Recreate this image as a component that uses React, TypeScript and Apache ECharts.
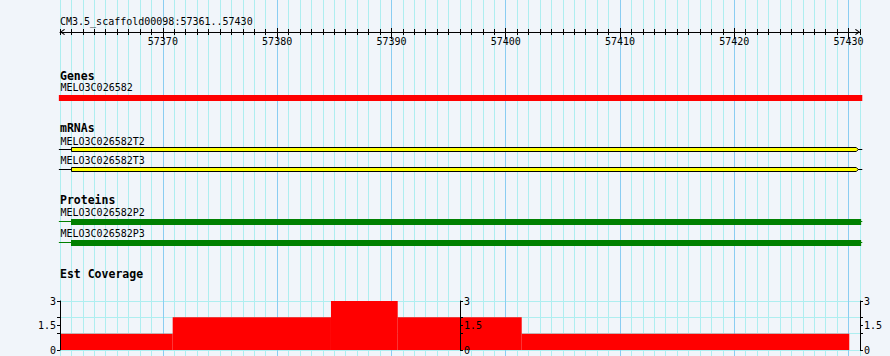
import React, { useEffect, useRef } from "react";
import * as echarts from "echarts";

// ---------- data ----------
const regionStart = 57361;
const regionEnd = 57431; // end of base 57430
const rulerLabel = "CM3.5_scaffold00098:57361..57430";
const rulerMajorTicks = [57370, 57380, 57390, 57400, 57410, 57420, 57430];

const trackTitles = ["Genes", "mRNAs", "Proteins", "Est Coverage"];

const geneNames = ["MELO3C026582"];
const geneStarts = [57360.9];
const geneEnds = [57431.2];

const mrnaNames = ["MELO3C026582T2", "MELO3C026582T3"];
const mrnaStarts = [57360.9, 57360.9];
const mrnaEnds = [57431.2, 57431.2];
const mrnaExonStarts = [57362, 57362];
const mrnaExonEnds = [57430.85, 57430.85];

const proteinNames = ["MELO3C026582P2", "MELO3C026582P3"];
const proteinStarts = [57360.9, 57360.9];
const proteinEnds = [57431.2, 57431.2];
const proteinCdsStarts = [57362, 57362];
const proteinCdsEnds = [57431.1, 57431.1];

const coverageStarts = [57361, 57370.86, 57384.71, 57390.55, 57401.4];
const coverageEnds = [57370.86, 57384.71, 57390.55, 57401.4, 57430.06];
const coverageValues = [1, 2, 3, 2, 1];
const coverageTickValues = [0, 1, 1.5, 2, 3];
const coverageLabelValues = [0, 1.5, 3];

// ---------- layout / style ----------
const W = 890;
const H = 356;
const BG = "#f1f5fa";
const MINOR = "#aeeef0";
const MAJOR = "#8acdf2";
const SMALL = "10px 'DejaVu Sans Mono'";
const BOLD = "bold 11.5px 'DejaVu Sans Mono'";
const titleY = [76, 128.3, 200, 274];
const geneLabelY = [87.7];
const geneBarTop = [95];
const mrnaLabelY = [141, 160.7];
const mrnaBoxTop = [147, 167];
const proteinLabelY = [212.3, 233.3];
const proteinBarTop = [219, 240];
const proteinLineY = [221.5, 242.5];

export default function App() {
  const ref = useRef<HTMLDivElement>(null);

  useEffect(() => {
    document.body.style.margin = "0";
    const chart = echarts.init(ref.current!, null, { renderer: "svg" });

    const splitColors = Array.from({ length: 10 }, (_, i) => (i === 9 ? MAJOR : MINOR));

    const mkText = (text: string, x: number, y: number, font: string) => ({
      type: "text",
      x,
      y,
      z: 100,
      style: { text, font, fill: "#000", verticalAlign: "middle" },
    });

    const texts: any[] = [];
    texts.push(mkText(rulerLabel, 60, 21, SMALL));
    trackTitles.forEach((t, i) => texts.push(mkText(t, 60, titleY[i], BOLD)));
    geneNames.forEach((t, i) => texts.push(mkText(t, 60.5, geneLabelY[i], SMALL)));
    mrnaNames.forEach((t, i) => texts.push(mkText(t, 60.5, mrnaLabelY[i], SMALL)));
    proteinNames.forEach((t, i) => texts.push(mkText(t, 60.5, proteinLabelY[i], SMALL)));

    const px = (api: any, v: number) => api.coord([v, 0])[0];
    const chevron = "path://M3,0 L6,4.2 L5.2,5 L3,1.6 L0.8,5 L0,4.2 Z";

    const covAxisCommon = {
      gridIndex: 2,
      type: "value",
      min: 0,
      max: 3,
      z: 6,
      axisLine: { show: true, onZero: false, lineStyle: { color: "#000", width: 1 } },
      axisTick: { show: true, length: 3, customValues: coverageTickValues, lineStyle: { color: "#000" } },
      axisLabel: {
        show: true,
        customValues: coverageLabelValues,
        margin: 4,
        color: "#000",
        fontFamily: "DejaVu Sans Mono",
        fontSize: 10,
        formatter: (v: number) => String(v),
      },
      splitLine: { show: false },
    };

    chart.setOption({
      animation: false,
      backgroundColor: BG,
      grid: [
        { left: 60, top: 0, width: 800, height: 356 },
        { left: 60, top: 22, width: 800, height: 10 },
        { left: 60, top: 301, width: 800, height: 49 },
      ],
      xAxis: [
        {
          gridIndex: 0, type: "value", min: regionStart, max: regionEnd, interval: 1,
          axisLine: { show: false }, axisTick: { show: false }, axisLabel: { show: false },
          splitLine: { show: true, showMinLine: true, showMaxLine: true, lineStyle: { color: splitColors, width: 1 } },
        },
        {
          gridIndex: 1, type: "value", position: "bottom", min: regionStart, max: regionEnd, interval: 1, z: 6,
          axisLine: {
            show: true, onZero: false, lineStyle: { color: "#000", width: 1 },
            symbol: [chevron, chevron], symbolSize: [6, 5], symbolOffset: [2.5, -2.5],
          },
          axisTick: { show: true, inside: false, length: 3, lineStyle: { color: "#000" } },
          axisLabel: { show: false }, splitLine: { show: false },
        },
        {
          gridIndex: 1, type: "value", position: "bottom", min: regionStart, max: regionEnd, interval: 1, z: 6,
          axisLine: { show: false, onZero: false },
          axisTick: { show: true, inside: true, length: 3, lineStyle: { color: "#000" } },
          axisLabel: { show: false }, splitLine: { show: false },
        },
        {
          gridIndex: 1, type: "value", position: "bottom", min: regionStart, max: regionEnd, z: 6,
          axisLine: { show: false, onZero: false },
          axisTick: { show: true, inside: false, length: 7, customValues: rulerMajorTicks, lineStyle: { color: "#000" } },
          axisLabel: {
            show: true, customValues: rulerMajorTicks, margin: 4, color: "#000",
            fontFamily: "DejaVu Sans Mono", fontSize: 10, formatter: (v: number) => String(v),
          },
          splitLine: { show: false },
        },
        {
          gridIndex: 1, type: "value", position: "bottom", min: regionStart, max: regionEnd, z: 6,
          axisLine: { show: false, onZero: false },
          axisTick: { show: true, inside: true, length: 4, customValues: rulerMajorTicks, lineStyle: { color: "#000" } },
          axisLabel: { show: false }, splitLine: { show: false },
        },
        {
          gridIndex: 2, type: "value", min: regionStart, max: regionEnd, show: false,
        },
      ],
      yAxis: [
        { gridIndex: 0, type: "value", min: 0, max: H, inverse: true, show: false },
        { gridIndex: 1, type: "value", min: 0, max: 1, show: false },
        { ...covAxisCommon, position: "left", offset: 0 },
        { ...covAxisCommon, position: "right", offset: -400 },
        { ...covAxisCommon, position: "right", offset: 0 },
        {
          gridIndex: 2, type: "value", min: 0, max: 3, interval: 1, position: "left",
          axisLine: { show: false, onZero: false }, axisTick: { show: false }, axisLabel: { show: false },
          splitLine: { show: true, showMinLine: true, showMaxLine: true, lineStyle: { color: MINOR, width: 1 } },
        },
      ],
      graphic: texts,
      series: [
        {
          type: "custom", name: "Genes", xAxisIndex: 0, yAxisIndex: 0, clip: false,
          data: geneNames.map((_, i) => [geneStarts[i], geneEnds[i], i]),
          encode: { x: [0, 1], y: 2 },
          renderItem: (params: any, api: any) => {
            const i = params.dataIndex;
            const x0 = px(api, api.value(0));
            const x1 = px(api, api.value(1));
            return { type: "rect", shape: { x: x0, y: geneBarTop[i], width: x1 - x0, height: 6 }, style: { fill: "#ff0000" } };
          },
        },
        {
          type: "custom", name: "mRNAs", xAxisIndex: 0, yAxisIndex: 0, clip: false,
          data: mrnaNames.map((_, i) => [mrnaStarts[i], mrnaEnds[i], mrnaExonStarts[i], mrnaExonEnds[i], i]),
          encode: { x: [0, 1], y: 4 },
          renderItem: (params: any, api: any) => {
            const i = params.dataIndex;
            const s = px(api, api.value(0));
            const e = px(api, api.value(1));
            const xs = Math.round(px(api, api.value(2))) + 0.5;
            const xe = px(api, api.value(3));
            const top = mrnaBoxTop[i] + 0.5;
            const bot = top + 4;
            const mid = top + 2;
            return {
              type: "group",
              children: [
                { type: "line", shape: { x1: s, y1: mid, x2: e, y2: mid }, style: { stroke: "#000", lineWidth: 1 } },
                {
                  type: "polygon",
                  shape: { points: [[xs, top], [xe - 2, top], [xe, mid], [xe - 2, bot], [xs, bot]] },
                  style: { fill: "#ffff00", stroke: "#000", lineWidth: 1 },
                },
              ],
            };
          },
        },
        {
          type: "custom", name: "Proteins", xAxisIndex: 0, yAxisIndex: 0, clip: false,
          data: proteinNames.map((_, i) => [proteinStarts[i], proteinEnds[i], proteinCdsStarts[i], proteinCdsEnds[i], i]),
          encode: { x: [0, 1], y: 4 },
          renderItem: (params: any, api: any) => {
            const i = params.dataIndex;
            const s = px(api, api.value(0));
            const e = px(api, api.value(1));
            const xs = Math.round(px(api, api.value(2)));
            const xe = px(api, api.value(3));
            return {
              type: "group",
              children: [
                { type: "line", shape: { x1: s, y1: proteinLineY[i], x2: e, y2: proteinLineY[i] }, style: { stroke: "#008000", lineWidth: 1 } },
                { type: "rect", shape: { x: xs, y: proteinBarTop[i], width: xe - xs, height: 6 }, style: { fill: "#008000" } },
              ],
            };
          },
        },
        {
          type: "custom", name: "Est Coverage", xAxisIndex: 5, yAxisIndex: 2, clip: false,
          data: coverageValues.map((v, i) => [coverageStarts[i], coverageEnds[i], v]),
          encode: { x: [0, 1], y: 2 },
          renderItem: (params: any, api: any) => {
            const p0 = api.coord([api.value(0), api.value(2)]);
            const p1 = api.coord([api.value(1), 0]);
            return { type: "rect", shape: { x: p0[0], y: p0[1], width: p1[0] - p0[0], height: p1[1] - p0[1] }, style: { fill: "#ff0000" } };
          },
        },
      ],
    });

    return () => chart.dispose();
  }, []);

  return <div ref={ref} style={{ width: W, height: H, background: BG }} />;
}
